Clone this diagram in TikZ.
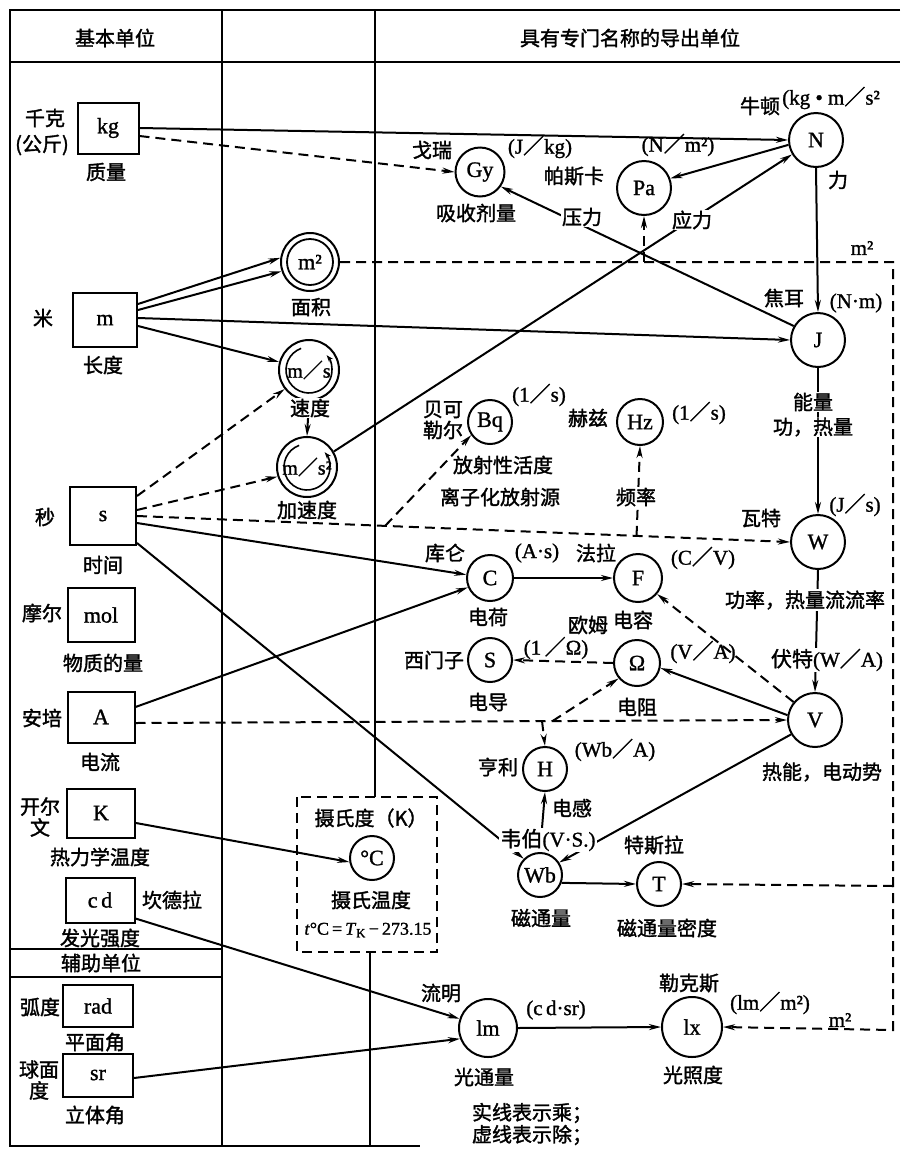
\documentclass[tikz,border=0pt]{standalone}
\usepackage{fontspec}
\setmainfont{Liberation Serif}[FakeBold=1.2]
\newfontfamily\cjk{Noto Sans CJK SC}[FakeBold=1.6]
\usetikzlibrary{calc,arrows.meta}
\newcommand\myslash{{\cjk ／}}
\begin{document}
\begin{tikzpicture}[x=1pt,y=-1pt,
  frameline/.style={line width=2.6pt},
  ubox/.style={draw, line width=2pt, inner sep=0pt, font=\fontsize{22}{24}\selectfont},
  ucirc/.style={draw, circle, line width=2pt, inner sep=0pt, font=\fontsize{22}{24}\selectfont},
  zh/.style={font=\cjk\fontsize{20}{21}\selectfont, inner sep=1pt},
  lat/.style={font=\fontsize{21}{22}\selectfont, inner sep=1pt},
  mul/.style={-{Stealth[length=12pt,width=6pt]}, line width=2pt},
  dvd/.style={mul, dash pattern=on 10pt off 6pt},
  dashbox/.style={line width=2pt, dash pattern=on 10pt off 6pt}]
\useasboundingbox (0,0) rectangle (900,1149);
% frame
\draw[frameline] (900,10) -- (10,10) -- (10,1146) -- (420,1146);
\draw[frameline] (10,62) -- (900,62);
\draw[frameline] (222,10) -- (222,1146);
\draw[frameline] (375,10) -- (375,797);
\draw[frameline] (370,952) -- (370,1146);
\draw[frameline] (10,949) -- (222,949);
\draw[frameline] (10,977) -- (222,977);
\draw[dashbox] (297,797) rectangle (437,952);
% boxes
\node[ubox, minimum width=61pt, minimum height=51pt] (kg) at (108,128) {kg};
\node[ubox, minimum width=64pt, minimum height=54pt] (m) at (105,320) {m};
\node[ubox, minimum width=66pt, minimum height=58pt] (s) at (103,516) {s};
\node[ubox, minimum width=67pt, minimum height=54pt] (mol) at (101,615) {mol};
\node[ubox, minimum width=67pt, minimum height=51pt] (A) at (101,717) {A};
\node[ubox, minimum width=68pt, minimum height=49pt] (K) at (101,813) {K};
\node[ubox, minimum width=69pt, minimum height=45pt] (cd) at (100,900) {c\,d};
\node[ubox, minimum width=70pt, minimum height=42pt] (rad) at (98,1006) {rad};
\node[ubox, minimum width=70pt, minimum height=43pt] (sr) at (98,1075) {sr};
% circles
\node[ucirc, minimum size=54pt] (N) at (816,140) {N};
\node[ucirc, minimum size=49pt] (Gy) at (480,172) {Gy};
\node[ucirc, minimum size=54pt] (Pa) at (644,188) {Pa};
\node[ucirc, minimum size=58pt] (m2) at (310,262) {m²};
\node[ucirc, minimum size=54pt] (J) at (818,340) {J};
\node[ucirc, minimum size=60pt, font=\fontsize{20}{22}\selectfont] (ms) at (309,370) {m\myslash s};
\node[ucirc, minimum size=60pt, font=\fontsize{20}{22}\selectfont] (ms2) at (307,467) {m\myslash s²};
\node[ucirc, minimum size=44pt] (Bq) at (490,422) {Bq};
\node[ucirc, minimum size=46pt] (Hz) at (640,422) {Hz};
\node[ucirc, minimum size=54pt] (W) at (818,542) {W};
\node[ucirc, minimum size=46pt] (C) at (490,578) {C};
\node[ucirc, minimum size=48pt] (F) at (638,578) {F};
\node[ucirc, minimum size=44pt] (S) at (490,660) {S};
\node[ucirc, minimum size=46pt] (Om) at (637,663) {Ω};
\node[ucirc, minimum size=54pt] (V) at (815,720) {V};
\node[ucirc, minimum size=44pt] (H) at (545,769) {H};
\node[ucirc, minimum size=44pt] (degC) at (372,858) {°C};
\node[ucirc, minimum size=44pt] (Wb) at (540,875) {Wb};
\node[ucirc, minimum size=44pt] (T) at (659,884) {T};
\node[ucirc, minimum size=58pt] (lm) at (488,1028) {lm};
\node[ucirc, minimum size=60pt] (lx) at (692,1027) {lx};
% inner rings
\draw[line width=1.8pt] (m2.center) circle[radius=23pt];
\draw[line width=1.6pt, -{Stealth[length=7pt,width=5pt]}] ($(ms.center)+(110:23pt)$) arc[start angle=110, end angle=400, radius=23pt];
\draw[line width=1.6pt, -{Stealth[length=7pt,width=5pt]}] ($(ms2.center)+(110:23pt)$) arc[start angle=110, end angle=400, radius=23pt];
% named points
\coordinate (c1) at (893,262);
\coordinate (c2) at (893,1030);
\coordinate (pa0) at (644,262);
\coordinate (t0) at (893,886);
\coordinate (a0) at ($(A.east)+(0,6)$);
\coordinate (bq0) at ($(s.east)!0.38!(W.west)$);
\coordinate (hz0) at ($(s.east)!0.765!(W.west)$);
\coordinate (om0) at ($(a0)!0.64!(V.west)$);
\coordinate (h0) at ($(a0)!0.624!(V.west)$);
% connectors
\draw[mul] (kg.east) -- (N.west);
\draw[dvd] ($(kg.east)+(0,8)$) -- (Gy.west);
\draw[mul] (J.150) -- (Gy.-35);
\draw[mul] (N.190) -- (Pa.20);
\draw[mul] (ms2.30) -- (N.211);
\draw[dvd] (m2.east) -- (c1) -- (c2) -- (lx.east);
\draw[dvd] (pa0) -- (Pa.south);
\draw[dvd] (t0) -- (T.east);
\draw[mul] ($(m.north east)+(0,12)$) -- (m2.172);
\draw[mul] ($(m.north east)+(0,18)$) -- (m2.198);
\draw[mul] ($(m.east)+(0,-2)$) -- (J.west);
\draw[mul] ($(m.east)+(0,6)$) -- (ms.165);
\draw[dvd] ($(s.north east)+(0,10)$) -- (ms.218);
\draw[dvd] ($(s.east)+(0,-6)$) -- (ms2.198);
\draw[mul] (ms.south) -- (ms2.north);
\draw[dvd] (s.east) -- (W.west);
\draw[dvd] (bq0) -- (Bq.215);
\draw[dvd] (hz0) -- (Hz.south);
\draw[mul] ($(s.east)+(0,7)$) -- (C.172);
\draw[mul] ($(s.south east)+(0,-3)$) -- (Wb.135);
\draw[mul] ($(A.east)+(0,-10)$) -- (C.203);
\draw[dvd] (a0) -- (V.west);
\draw[dvd] (om0) -- (Om.220);
\draw[dvd] (h0) -- (H.north);
\draw[mul] (N.south) -- (J.north);
\draw[mul] (J.south) -- (W.north);
\draw[mul] (W.south) -- (V.north);
\draw[mul] (V.170) -- (Om.-12);
\draw[dvd] (V.140) -- (F.-40);
\draw[mul] (C.east) -- (F.west);
\draw[dvd] (Om.west) -- (S.east);
\draw[mul] (Wb.north) -- (H.south);
\draw[mul] (V.211) -- (Wb.33);
\draw[mul] (Wb.-20) -- (T.west);
\draw[mul] ($(K.east)+(0,10)$) -- (degC.190);
\draw[mul] ($(cd.south east)+(0,-5)$) -- (lm.162);
\draw[mul] ($(sr.east)+(0,3)$) -- (lm.201);
\draw[mul] (lm.east) -- (lx.west);
% labels
\node[zh] (t1) at (115,38) {基本单位};
\node[zh] (t2) at (630,38) {具有专门名称的导出单位};
\node[zh] (t3) at (45,118) {千克};
\node[zh] (t4) at (42,145) {(公斤)};
\node[zh] (t5) at (106,172) {质量};
\node[zh] (t6) at (43,318) {米};
\node[zh] (t7) at (103,365) {长度};
\node[zh] (t8) at (45,517) {秒};
\node[zh] (t9) at (103,565) {时间};
\node[zh] (t10) at (42,613) {摩尔};
\node[zh] (t11) at (103,663) {物质的量};
\node[zh] (t12) at (42,718) {安培};
\node[zh] (t13) at (100,762) {电流};
\node[zh, align=center] (t14) at (40,817) {开尔\\文};
\node[zh] (t15) at (100,857) {热力学温度};
\node[zh] (t16) at (172,900) {坎德拉};
\node[zh] (t17) at (100,938) {发光强度};
\node[zh] (t18) at (101,963) {辅助单位};
\node[zh] (t19) at (40,1007) {弧度};
\node[zh] (t20) at (95,1042) {平面角};
\node[zh, align=center] (t21) at (39,1080) {球面\\度};
\node[zh] (t22) at (95,1115) {立体角};
\node[zh] (t23) at (311,307) {面积};
\node[zh, fill=white] (t24) at (310,408) {速度};
\node[zh] (t25) at (307,510) {加速度};
\node[zh] (t26) at (371,818) {摄氏度（K）};
\node[zh] (t27) at (371,900) {摄氏温度};
\node[lat, font=\fontsize{18}{20}\selectfont] (t28) at (368,930) {\textit{t}°C\,=\,\textit{T}\textsubscript{K}\,−\,273.15};
\node[zh] (t29) at (432,150) {戈瑞};
\node[lat] (t30) at (540,147) {(J\myslash kg)};
\node[zh] (t31) at (476,213) {吸收剂量};
\node[zh] (t32) at (574,176) {帕斯卡};
\node[lat] (t33) at (678,145) {(N\myslash m²)};
\node[zh, fill=white] (t34) at (582,217) {压力};
\node[zh, fill=white] (t35) at (692,220) {应力};
\node[zh] (t36) at (760,106) {牛顿};
\node[lat, anchor=west] (t37) at (781,98) {(kg • m\myslash s²};
\node[zh] (t38) at (838,180) {力};
\node[lat] (t39) at (862,248) {m²};
\node[zh] (t40) at (784,298) {焦耳};
\node[lat] (t41) at (856,303) {(N·m)};
\node[zh, fill=white] (t42) at (813,402) {能量};
\node[zh, fill=white] (t43) at (813,427) {功，热量};
\node[zh, align=center] (t44) at (443,420) {贝可\\勒尔};
\node[lat] (t45) at (539,395) {(1\myslash s)};
\node[zh] (t46) at (503,465) {放射性活度};
\node[zh] (t47) at (500,497) {离子化放射源};
\node[zh] (t48) at (588,418) {赫兹};
\node[lat] (t49) at (699,413) {(1\myslash s)};
\node[zh, fill=white] (t50) at (636,497) {频率};
\node[zh] (t51) at (761,518) {瓦特};
\node[lat] (t52) at (855,505) {(J\myslash s)};
\node[zh, fill=white] (t53) at (805,600) {功率，热量流流率};
\node[zh] (t54) at (445,553) {库仑};
\node[lat] (t55) at (537,553) {(A·s)};
\node[zh] (t56) at (596,553) {法拉};
\node[zh] (t57) at (488,617) {电荷};
\node[lat] (t58) at (703,558) {(C\myslash V)};
\node[zh] (t59) at (588,625) {欧姆};
\node[zh] (t60) at (633,620) {电容};
\node[zh] (t61) at (434,660) {西门子};
\node[lat] (t62) at (556,648) {(1\,\myslash Ω)};
\node[zh] (t63) at (488,702) {电导};
\node[lat] (t64) at (703,652) {(V\myslash A)};
\node[zh] (t65) at (637,707) {电阻};
\node[lat, fill=white] (t66) at (827,660) {{\cjk 伏特}(W\myslash A)};
\node[zh] (t67) at (822,772) {热能，电动势};
\node[zh] (t68) at (498,767) {亨利};
\node[lat] (t69) at (615,750) {(Wb\myslash A)};
\node[zh] (t70) at (572,808) {电感};
\node[lat, fill=white] (t71) at (548,840) {{\cjk 韦伯}(V·S.)};
\node[zh] (t72) at (541,918) {磁通量};
\node[zh] (t73) at (654,845) {特斯拉};
\node[zh] (t74) at (667,928) {磁通量密度};
\node[zh] (t75) at (441,993) {流明};
\node[lat] (t76) at (556,1010) {(c\,d·sr)};
\node[zh] (t77) at (484,1077) {光通量};
\node[zh] (t78) at (689,983) {勒克斯};
\node[lat] (t79) at (770,1003) {(lm\myslash m²)};
\node[zh] (t80) at (693,1075) {光照度};
\node[lat] (t81) at (840,1020) {m²};
\node[zh] (t82) at (532,1113) {实线表示乘；};
\node[zh] (t83) at (532,1135) {虚线表示除；};
\end{tikzpicture}
\end{document}
